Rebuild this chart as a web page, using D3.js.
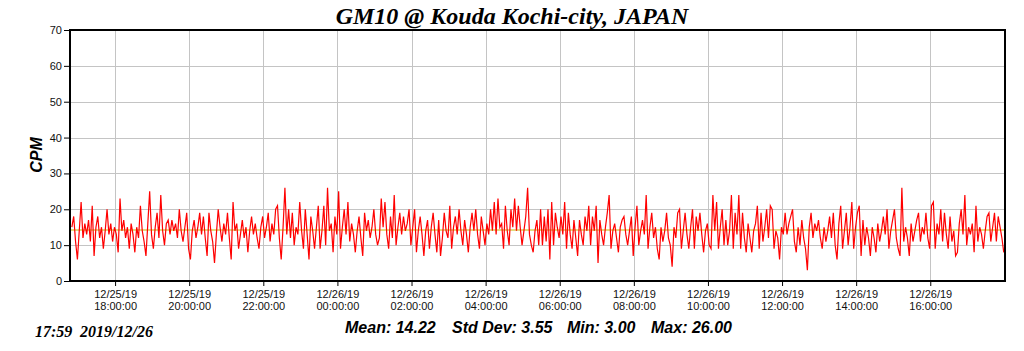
<!DOCTYPE html>
<html lang="en">
<head>
    <meta charset="UTF-8">
    <title>GM10 @ Kouda Kochi-city, JAPAN</title>
    <script src="https://d3js.org/d3.v7.min.js"></script>
    <style>
        body { margin: 0; background: #fff; }
        svg { display: block; }
    </style>
</head>
<body>
    <svg id="chart"></svg>

    <script>
        // --- data ---
        let titleText = "GM10 @ Kouda Kochi-city, JAPAN";
        let yLabel = "CPM";
        let startTime = new Date(2019, 11, 25, 16, 50);   // first sample
        let stepMinutes = 3;
        let domainStart = new Date(2019, 11, 25, 16, 47);
        let domainEnd = new Date(2019, 11, 26, 18, 1);
        let yTicks = [0, 10, 20, 30, 40, 50, 60, 70];
        let xTickTimes = ["2019-12-25T18:00", "2019-12-25T20:00", "2019-12-25T22:00",
            "2019-12-26T00:00", "2019-12-26T02:00", "2019-12-26T04:00", "2019-12-26T06:00",
            "2019-12-26T08:00", "2019-12-26T10:00", "2019-12-26T12:00", "2019-12-26T14:00",
            "2019-12-26T16:00"];
        let meanValue = 14.22;
        let statLabels = ["Mean: 14.22", "Std Dev: 3.55", "Min: 3.00", "Max: 26.00"];
        let footerTime = "17:59";
        let footerDate = "2019/12/26";

        let cpm = [
            15,18,11,6,14,22,12,16,13,17, 11,21,7,15,18,12,15,9,14,20,
            13,16,11,15,13,8,23,14,17,12, 15,9,16,13,8,15,12,21,14,11,
            7,16,25,13,9,15,19,12,24,14, 10,16,17,13,17,14,16,12,20,14,
            11,15,19,
            9,6,14,17,12,15,19,13,18,12, 7,19,14,11,5,13,20,15,11,16,
            13,19,12,6,22,14,16,9,13,17, 12,15,8,14,18,13,16,12,9,15,
            18,12,15,19,11,16,13,20,21,12, 6,15,26,13,20,12,19,10,15,13,
            22,14,9,
            20,13,6,18,14,9,15,21,9,14, 21,10,26,14,16,8,18,13,25,9,
            15,20,13,22,11,16,13,8,14,18, 12,7,19,14,17,12,15,20,13,10,
            12,23,15,22,13,9,18,12,24,10, 15,19,13,18,14,16,20,10,15,20,
            8,14,18,
            13,7,14,17,9,15,19,13,8,17, 7,12,19,14,12,21,9,15,18,13,
            20,14,10,17,13,8,15,19,14,20, 13,9,18,14,10,16,13,20,14,22,
            13,23,15,16,9,21,14,10,20,15, 23,14,21,15,10,14,18,26,13,10,
            8,14,17,10,
            20,10,18,11,20,6,22,10,19,15,12, 18,13,22,9,19,13,9,17,12,7,
            17,13,10,18,14,21,10,18,14,21, 5,17,13,10,15,19,24,9,14,16,
            12,8,15,17,18,13,10,14,18,7, 15,21,10,14,17,13,24,9,15,19,
            12,
            15,9,6,15,11,14,19,12,10,4, 15,12,19,20,9,14,19,13,9,15,
            20,9,18,14,19,13,8,14,16,10, 9,24,14,22,9,15,20,10,17,10,
            14,24,9,19,13,24,9,19,12,8, 16,12,8,14,16,21,9,19,11,15,
            20,12,21,
            20,9,14,12,6,15,13,19,13,16, 18,20,11,8,15,10,17,12,9,3,
            15,19,12,16,14,17,12,9,15,11, 14,18,12,19,10,6,16,21,9,14,
            19,10,15,22,9,15,19,21,7,17, 10,15,12,7,15,12,8,16,11,14,
            18,13,20,
            9,14,17,20,12,9,7,26,11,15, 12,7,16,11,14,17,19,11,15,13,
            19,12,9,21,22,9,16,13,20,11, 19,13,9,18,11,14,7,8,16,20,
            13,24,10,15,13,16,8,21,11,15, 13,9,14,18,19,11,15,19,11,18,
            15,12,8
        ];

        let width = 1024, height = 351;
        let margin = { top: 30, right: 19, bottom: 70, left: 70 };

        let svg = d3.select("#chart")
            .attr("width", width)
            .attr("height", height);

        let dataset = cpm.map((v, i) => ({
            time: new Date(startTime.getTime() + i * stepMinutes * 60000),
            value: v
        }));

        let xScale = d3.scaleTime()
            .domain([domainStart, domainEnd])
            .range([margin.left, width - margin.right]);

        let yScale = d3.scaleLinear()
            .domain([0, 70])
            .range([height - margin.bottom, margin.top]);

        let xTicks = xTickTimes.map(s => new Date(s));
        let plotBottom = height - margin.bottom;
        let plotRight = width - margin.right;

        // grid
        svg.append("g")
            .selectAll("line")
            .data(yTicks.slice(1, -1))
            .enter().append("line")
            .attr("x1", margin.left).attr("x2", plotRight)
            .attr("y1", d => Math.round(yScale(d)) + 0.5)
            .attr("y2", d => Math.round(yScale(d)) + 0.5)
            .attr("stroke", "#c4c4c4");

        svg.append("g")
            .selectAll("line")
            .data(xTicks)
            .enter().append("line")
            .attr("x1", d => Math.round(xScale(d)) + 0.5)
            .attr("x2", d => Math.round(xScale(d)) + 0.5)
            .attr("y1", margin.top).attr("y2", plotBottom)
            .attr("stroke", "#c4c4c4");

        // mean line
        svg.append("line")
            .attr("x1", margin.left).attr("x2", plotRight)
            .attr("y1", yScale(meanValue)).attr("y2", yScale(meanValue))
            .attr("stroke", "#c8b400")
            .attr("stroke-width", 1);

        // data
        let line = d3.line()
            .x(d => xScale(d.time))
            .y(d => yScale(d.value));

        svg.append("path")
            .datum(dataset)
            .attr("d", line)
            .attr("fill", "none")
            .attr("stroke", "#ff0000")
            .attr("stroke-width", 1.2);

        // frame
        svg.append("rect")
            .attr("x", margin.left)
            .attr("y", margin.top)
            .attr("width", plotRight - margin.left)
            .attr("height", plotBottom - margin.top)
            .attr("fill", "none")
            .attr("stroke", "#000")
            .attr("stroke-width", 2);

        // axes
        let yAxis = svg.append("g")
            .attr("transform", `translate(${margin.left - 1},0)`)
            .call(d3.axisLeft(yScale).tickValues(yTicks).tickSize(5).tickPadding(2));
        yAxis.select(".domain").remove();
        yAxis.selectAll("text")
            .style("font-family", "'Liberation Sans', Arial, sans-serif")
            .style("font-size", "11px")
            .attr("fill", "#111");

        let fmtDate = d3.timeFormat("%m/%d/%y");
        let fmtTime = d3.timeFormat("%H:%M:%S");
        let xAxis = svg.append("g")
            .attr("transform", `translate(0,${plotBottom + 1})`)
            .call(d3.axisBottom(xScale).tickValues(xTicks).tickSize(4).tickFormat(""));
        xAxis.select(".domain").remove();
        let tickText = xAxis.selectAll(".tick").append("text")
            .attr("fill", "#111")
            .attr("text-anchor", "middle")
            .style("font-family", "'Liberation Sans', Arial, sans-serif")
            .style("font-size", "11px");
        tickText.append("tspan").attr("x", 0).attr("y", 16).text(d => fmtDate(d));
        tickText.append("tspan").attr("x", 0).attr("y", 28).text(d => fmtTime(d));

        // title
        svg.append("text")
            .attr("x", 512)
            .attr("y", 24)
            .attr("text-anchor", "middle")
            .style("font-family", "'Liberation Serif', 'Times New Roman', serif")
            .style("font-weight", "bold")
            .style("font-style", "italic")
            .style("font-size", "24px")
            .text(titleText);

        // y label
        svg.append("text")
            .attr("transform", "translate(42,155) rotate(-90)")
            .attr("text-anchor", "middle")
            .style("font-family", "'Liberation Sans', Arial, sans-serif")
            .style("font-weight", "bold")
            .style("font-style", "italic")
            .style("font-size", "16px")
            .text(yLabel);

        // footer
        let serifFoot = svg.append("g")
            .style("font-family", "'Liberation Serif', 'Times New Roman', serif")
            .style("font-weight", "bold")
            .style("font-style", "italic")
            .style("font-size", "16px");
        serifFoot.append("text").attr("x", 35).attr("y", 337).text(footerTime);
        serifFoot.append("text").attr("x", 80).attr("y", 337).text(footerDate);

        let statX = [345, 452, 567, 651];
        svg.append("g")
            .style("font-family", "'Liberation Sans', Arial, sans-serif")
            .style("font-weight", "bold")
            .style("font-style", "italic")
            .style("font-size", "16px")
            .selectAll("text")
            .data(statLabels)
            .enter().append("text")
            .attr("x", (d, i) => statX[i])
            .attr("y", 333)
            .text(d => d);
    </script>
</body>
</html>
